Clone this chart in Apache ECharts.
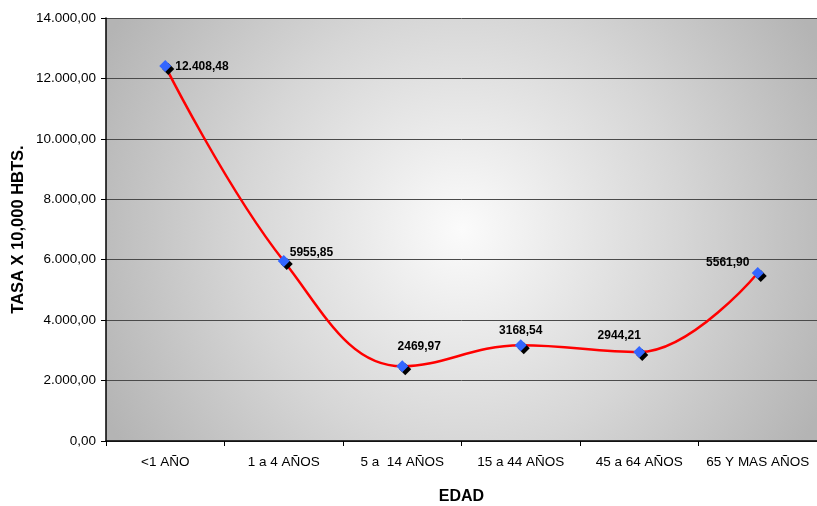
<!DOCTYPE html>
<html><head><meta charset="utf-8">
<script src="https://cdn.jsdelivr.net/npm/echarts@6/dist/echarts.min.js"></script>
<style>html,body{margin:0;padding:0;background:#fff}#c{width:817px;height:506px}</style>
</head><body><div id="c"></div>
<script>
var categories = ['<1 AÑO', '1 a 4 AÑOS', '5 a  14 AÑOS', '15 a 44 AÑOS', '45 a 64 AÑOS', '65 Y MAS AÑOS'];
var values = [12408.48, 5955.85, 2469.97, 3168.54, 2944.21, 5561.90];
var valueLabels = ['12.408,48', '5955,85', '2469,97', '3168,54', '2944,21', '5561,90'];
var yTicks = [0, 2000, 4000, 6000, 8000, 10000, 12000, 14000];

function fmt(v) {
  var s = Math.round(v).toString().replace(/\B(?=(\d{3})+(?!\d))/g, '.');
  return s + ',00';
}
var labelCfg = [
  {position: 'right', distance: 4, offset: [0, 1]},
  {position: 'right', distance: 0, offset: [0, -8]},
  {position: 'top', distance: 8, offset: [17, 0]},
  {position: 'top', distance: 3, offset: [0, 0]},
  {position: 'top', distance: 4, offset: [-20, 0]},
  {position: 'top', distance: 4, offset: [-30, 6]}
];
var data = values.map(function (v, i) {
  return {value: v, label: Object.assign({formatter: valueLabels[i]}, labelCfg[i])};
});
var chart = echarts.init(document.getElementById('c'));
chart.setOption({
  animation: false,
  grid: {left: 106, right: 0, top: 18, bottom: 65, show: true, borderWidth: 0,
    containLabel: false, outerBoundsMode: 'none',
    backgroundColor: {type: 'radial', x: 0.5, y: 0.5, r: 0.95,
      colorStops: [{offset: 0, color: '#fbfbfb'}, {offset: 0.55, color: '#d6d6d6'}, {offset: 1, color: '#b4b4b4'}]}},
  xAxis: {type: 'category', data: categories, boundaryGap: true,
    name: 'EDAD', nameLocation: 'middle', nameGap: 48, nameMoveOverlap: false,
    nameTextStyle: {fontFamily: 'Liberation Sans, Arial', fontWeight: 'bold', fontSize: 16, color: '#000'},
    axisLine: {lineStyle: {color: '#000', width: 1.5}},
    axisTick: {show: true, length: 5, lineStyle: {color: '#000'}},
    axisLabel: {fontFamily: 'Liberation Sans, Arial', fontSize: 13.5, color: '#000', margin: 14, interval: 0}},
  yAxis: {type: 'value', min: 0, max: 14000, interval: 2000,
    name: 'TASA X 10,000 HBTS.', nameLocation: 'middle', nameGap: 79, nameMoveOverlap: false,
    nameTextStyle: {fontFamily: 'Liberation Sans, Arial', fontWeight: 'bold', fontSize: 16.5, color: '#000'},
    axisLine: {show: true, lineStyle: {color: '#000', width: 1.5}},
    axisTick: {show: true, length: 5, lineStyle: {color: '#000'}},
    axisLabel: {fontFamily: 'Liberation Sans, Arial', fontSize: 13.5, color: '#000', margin: 10, formatter: fmt},
    splitLine: {show: true, lineStyle: {color: '#4a4a4a', width: 1}}},
  series: [{
    type: 'line', data: data, smooth: 0.4,
    symbol: 'diamond', symbolSize: 12,
    lineStyle: {color: '#ff0000', width: 2.5},
    itemStyle: {color: '#3366ff', shadowColor: '#000', shadowOffsetX: 3, shadowOffsetY: 3, shadowBlur: 0},
    label: {show: true, fontFamily: 'Liberation Sans, Arial', fontWeight: 'bold', fontSize: 12, color: '#000'}
  }]
});
</script></body></html>
